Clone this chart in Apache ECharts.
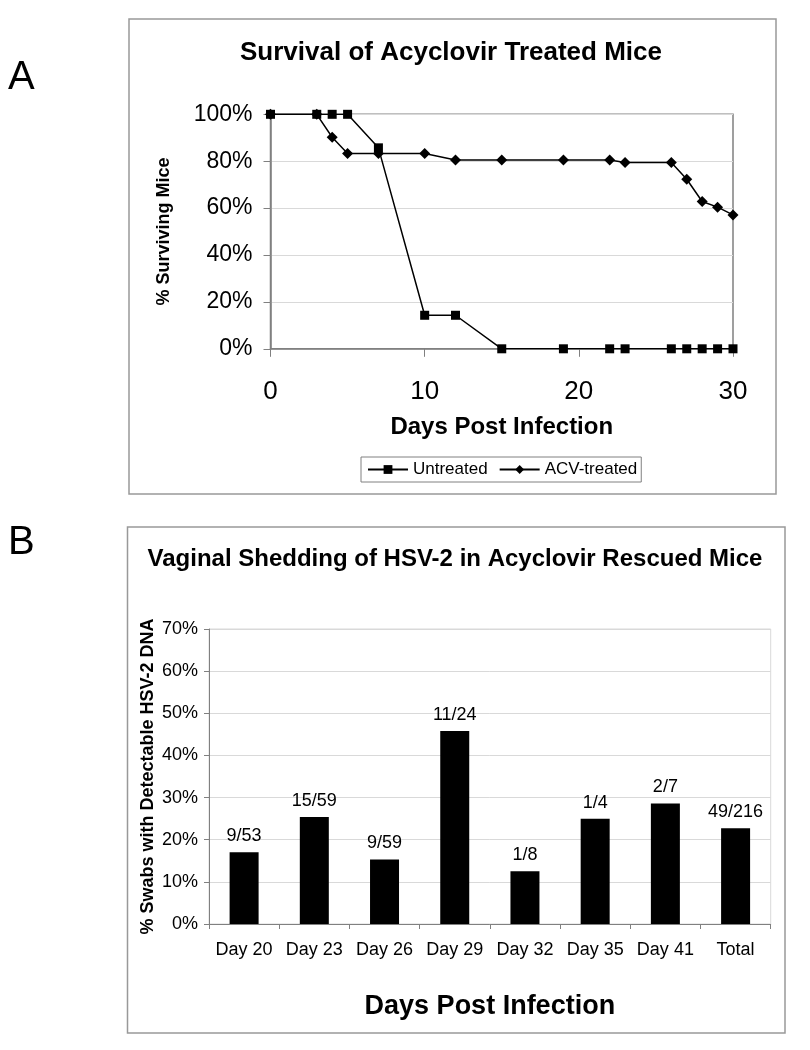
<!DOCTYPE html>
<html>
<head>
<meta charset="utf-8">
<script src="https://cdn.jsdelivr.net/npm/echarts@6/dist/echarts.min.js"></script>
<style>
html,body{margin:0;padding:0;background:#fff;}
#chart{width:810px;height:1050px;}
</style>
</head>
<body>
<div id="chart"></div>
<script>
// ---- Panel A data ----
const survivalDays = [0, 3, 4, 5, 7, 10, 12, 15, 19, 22, 23, 26, 27, 28, 29, 30];
const untreated   = [100, 100, 100, 100, 85.7, 14.3, 14.3, 0, 0, 0, 0, 0, 0, 0, 0, 0];
const acvTreated  = [100, 100, 90.2, 83.3, 83.3, 83.3, 80.5, 80.5, 80.5, 80.5, 79.4, 79.4, 72.3, 62.8, 60.4, 57.1];
const seriesNamesA = ['Untreated', 'ACV-treated'];

// ---- Panel B data ----
const shedDays    = ['Day 20', 'Day 23', 'Day 26', 'Day 29', 'Day 32', 'Day 35', 'Day 41', 'Total'];
const shedPercent = [17.0, 25.4, 15.3, 45.8, 12.5, 25.0, 28.6, 22.7];
const shedLabels  = ['9/53', '15/59', '9/59', '11/24', '1/8', '1/4', '2/7', '49/216'];

const FONT = '"Liberation Sans", Arial, sans-serif';
const AXIS_GRAY = '#808080';
const GRID_GRAY = '#d9d9d9';

const chart = echarts.init(document.getElementById('chart'), null, {renderer: 'canvas'});

const option = {
  backgroundColor: '#fff',
  animation: false,
  textStyle: {fontFamily: FONT, color: '#000'},
  title: [
    {text: 'A', left: 8, top: 58, padding: 0, textStyle: {fontFamily: FONT, fontSize: 40, fontWeight: 'normal', color: '#000'}},
    {text: 'B', left: 8, top: 523, padding: 0, textStyle: {fontFamily: FONT, fontSize: 40, fontWeight: 'normal', color: '#000'}},
    {text: 'Survival of Acyclovir Treated Mice', left: 451, top: 40, textAlign: 'center', padding: 0,
     textStyle: {fontFamily: FONT, fontSize: 26, fontWeight: 'bold', color: '#000'}},
    {text: 'Vaginal Shedding of HSV-2 in Acyclovir Rescued Mice', left: 455, top: 547, textAlign: 'center', padding: 0,
     textStyle: {fontFamily: FONT, fontSize: 24, fontWeight: 'bold', color: '#000'}}
  ],
  graphic: [
    {type: 'rect', shape: {x: 129, y: 19, width: 647, height: 475}, style: {fill: 'none', stroke: '#999', lineWidth: 1.5}, z: -1},
    {type: 'rect', shape: {x: 127.5, y: 527, width: 657.5, height: 506}, style: {fill: 'none', stroke: '#999', lineWidth: 1.5}, z: -1}
  ],
  legend: {
    data: seriesNamesA,
    left: 361, top: 457,
    orient: 'horizontal',
    padding: [4, 4, 4, 6],
    itemGap: 11,
    itemWidth: 40,
    itemHeight: 11,
    itemTextGap: 5,
    borderColor: AXIS_GRAY,
    borderWidth: 1,
    borderRadius: 0,
    textStyle: {fontFamily: FONT, fontSize: 17, color: '#000'}
  },
  grid: [
    {left: 270.5, top: 114.3, width: 462.5, height: 234.5, show: true, borderColor: AXIS_GRAY, borderWidth: 1.5, backgroundColor: 'transparent'},
    {left: 209, top: 629, width: 561.7, height: 295, show: true, borderColor: GRID_GRAY, borderWidth: 1, backgroundColor: 'transparent'}
  ],
  xAxis: [
    {
      gridIndex: 0, type: 'value', min: 0, max: 30, interval: 10,
      name: 'Days Post Infection', nameLocation: 'middle', nameGap: 67, nameMoveOverlap: false,
      nameTextStyle: {fontFamily: FONT, fontSize: 24, fontWeight: 'bold', color: '#000'},
      axisLine: {show: true, lineStyle: {color: AXIS_GRAY, width: 1.5}},
      axisTick: {show: true, length: 8, lineStyle: {color: AXIS_GRAY}},
      axisLabel: {fontFamily: FONT, fontSize: 26, color: '#000', margin: 30},
      splitLine: {show: false}
    },
    {
      gridIndex: 1, type: 'category', data: shedDays,
      name: 'Days Post Infection', nameLocation: 'middle', nameGap: 69, nameMoveOverlap: false,
      nameTextStyle: {fontFamily: FONT, fontSize: 27, fontWeight: 'bold', color: '#000'},
      axisLine: {show: true, lineStyle: {color: AXIS_GRAY, width: 1}},
      axisTick: {show: true, alignWithLabel: false, length: 5, lineStyle: {color: AXIS_GRAY}},
      axisLabel: {fontFamily: FONT, fontSize: 18, color: '#000', margin: 17, interval: 0},
      splitLine: {show: false}
    }
  ],
  yAxis: [
    {
      gridIndex: 0, type: 'value', min: 0, max: 100, interval: 20,
      name: '% Surviving Mice', nameLocation: 'middle', nameGap: 97, nameMoveOverlap: false,
      nameTextStyle: {fontFamily: FONT, fontSize: 18, fontWeight: 'bold', color: '#000'},
      axisLine: {show: true, lineStyle: {color: AXIS_GRAY, width: 1.5}},
      axisTick: {show: true, length: 7, lineStyle: {color: AXIS_GRAY}},
      axisLabel: {fontFamily: FONT, fontSize: 23, color: '#000', margin: 18, formatter: '{value}%'},
      splitLine: {show: true, lineStyle: {color: GRID_GRAY, width: 1}}
    },
    {
      gridIndex: 1, type: 'value', min: 0, max: 70, interval: 10,
      name: '% Swabs with Detectable HSV-2 DNA', nameLocation: 'middle', nameGap: 52, nameMoveOverlap: false,
      nameTextStyle: {fontFamily: FONT, fontSize: 18, fontWeight: 'bold', color: '#000'},
      axisLine: {show: true, lineStyle: {color: AXIS_GRAY, width: 1}},
      axisTick: {show: true, length: 5, lineStyle: {color: AXIS_GRAY}},
      axisLabel: {fontFamily: FONT, fontSize: 18, color: '#000', margin: 11, formatter: '{value}%'},
      splitLine: {show: true, lineStyle: {color: GRID_GRAY, width: 1}}
    }
  ],
  series: [
    {
      name: seriesNamesA[0], type: 'line', xAxisIndex: 0, yAxisIndex: 0,
      data: survivalDays.map((d, i) => [d, untreated[i]]),
      symbol: 'rect', symbolSize: 9,
      itemStyle: {color: '#000'},
      lineStyle: {color: '#000', width: 1.5},
      z: 3
    },
    {
      name: seriesNamesA[1], type: 'line', xAxisIndex: 0, yAxisIndex: 0,
      data: survivalDays.map((d, i) => [d, acvTreated[i]]),
      symbol: 'diamond', symbolSize: 11,
      itemStyle: {color: '#000'},
      lineStyle: {color: '#000', width: 1.5},
      z: 3
    },
    {
      name: 'Shedding', type: 'bar', xAxisIndex: 1, yAxisIndex: 1,
      data: shedPercent,
      barWidth: 29,
      itemStyle: {color: '#000'},
      label: {
        show: true, position: 'top', distance: 7,
        fontFamily: FONT, fontSize: 18, color: '#000',
        formatter: (p) => shedLabels[p.dataIndex]
      }
    }
  ]
};

chart.setOption(option);
</script>
</body>
</html>
